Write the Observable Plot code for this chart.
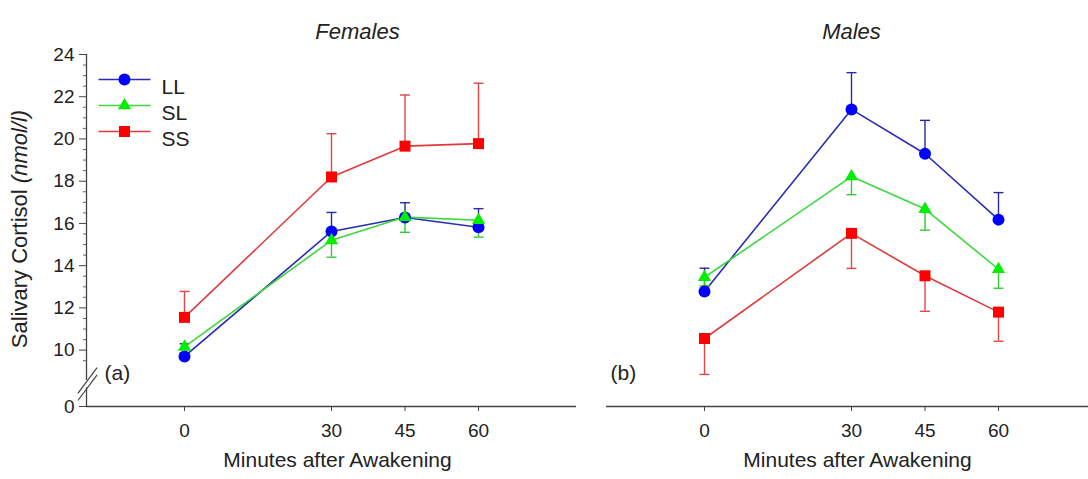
<!DOCTYPE html>
<html><head><meta charset="utf-8">
<script src="https://cdn.jsdelivr.net/npm/d3@7"></script>
<script src="https://cdn.jsdelivr.net/npm/@observablehq/plot@0.6"></script>
<style>
body{margin:0;background:#fff;}
#chart{position:relative;width:1088px;height:479px;overflow:hidden;background:#fff;}
#chart svg{position:absolute;top:0;}
</style></head><body><div id="chart"></div>
<script>
// ---- data ----
const minutes = [0, 30, 45, 60];
const groups = ["LL", "SL", "SS"];
const panelNames = ["Females", "Males"];
const panelTags = ["(a)", "(b)"];

const femalesLL = [9.7, 15.62, 16.28, 15.82];
const femalesLLerr = [0.6, 0.9, 0.7, 0.88];
const femalesSL = [10.15, 15.2, 16.3, 16.15];
const femalesSLerr = [0.3, 0.8, 0.72, 0.8];
const femalesSS = [11.55, 18.2, 19.66, 19.78];
const femalesSSerr = [1.23, 2.05, 2.42, 2.86];

const malesLL = [12.78, 21.4, 19.3, 16.18];
const malesLLerr = [1.1, 1.74, 1.58, 1.28];
const malesSL = [13.45, 18.22, 16.68, 13.83];
const malesSLerr = [0.4, 0.86, 1.0, 0.9];
const malesSS = [10.55, 15.53, 13.52, 11.8];
const malesSSerr = [1.7, 1.66, 1.68, 1.38];

// error bar direction per group (+1 up, -1 down)
const femalesErrDir = [1, -1, 1];
const malesErrDir = [1, -1, -1];

const yMajorTicks = [10, 12, 14, 16, 18, 20, 22, 24];
const yZeroTickLabel = "0";
const xTickValues = [0, 30, 45, 60];

// ---- styling ----
const markerColors = ["#0000ff", "#00ee00", "#ff0000"];
const lineColors = ["#2b2bb5", "#3cd83c", "#dd3b3b"];
const errColors = ["#2a2aa0", "#33cc33", "#e04848"];
const symbols = ["circle", "triangle", "square"];
const symbolR = [6, 4.9, 6.2];
const font = "'Liberation Sans', Arial, Helvetica, sans-serif";

// broken axis: the bottom of the frame stands for 0
const yBreakBase = 7.33;
const yGap = [8.22, 8.56];

// ---- build tables ----
const seriesValues = [[femalesLL, femalesSL, femalesSS], [malesLL, malesSL, malesSS]];
const seriesErrs = [[femalesLLerr, femalesSLerr, femalesSSerr], [malesLLerr, malesSLerr, malesSSerr]];
const errDirs = [femalesErrDir, malesErrDir];

function rowsFor(p, g) {
  return minutes.map((t, j) => {
    const v = seriesValues[p][g][j];
    return {t, v, end: v + errDirs[p][g] * seriesErrs[p][g][j]};
  });
}

const capSymbol = {draw(ctx, size) { const r = Math.sqrt(size / Math.PI); ctx.moveTo(-r, 0); ctx.lineTo(r, 0); }};
const slashSymbol = {draw(ctx, size) { const r = Math.sqrt(size / Math.PI); ctx.moveTo(-0.6 * r, 0.8 * r); ctx.lineTo(0.6 * r, -0.8 * r); }};

function panel(p) {
  const left = p === 0;
  const marks = [];
  // baseline (x axis line)
  marks.push(Plot.ruleY([yBreakBase], {stroke: "#444", strokeWidth: 1.3}));
  marks.push(Plot.axisX({ticks: xTickValues, tickSize: 5, tickPadding: 12, fontSize: 19, label: null, stroke: "#444"}));
  // x axis title
  marks.push(Plot.text(["Minutes after Awakening"], {frameAnchor: "bottom", dy: 60, dx: 6, fontSize: 21, fill: "#222"}));
  // panel title
  marks.push(Plot.text([panelNames[p]], {frameAnchor: "top", dy: -31, dx: left ? 26 : 0, fontSize: 22, fontStyle: "italic", fill: "#222"}));
  // panel tag
  marks.push(Plot.text([panelTags[p]], {frameAnchor: "bottom-left", dx: left ? 18 : 4, dy: -27, textAnchor: "start", fontSize: 21, fill: "#222"}));

  if (left) {
    marks.push(Plot.ruleX([-20], {y1: 24, y2: yGap[1], stroke: "#444", strokeWidth: 1.3}));
    marks.push(Plot.ruleX([-20], {y1: yGap[0], y2: yBreakBase, stroke: "#444", strokeWidth: 1.3}));
    marks.push(Plot.axisY({ticks: [yBreakBase, ...yMajorTicks], tickSize: 7, tickPadding: 5, fontSize: 19, label: null, stroke: "#444",
      tickFormat: d => d < 9 ? yZeroTickLabel : String(d)}));
    const minor = d3.range(9.5, 24, 0.5).filter(d => !yMajorTicks.includes(d));
    marks.push(Plot.axisY({ticks: minor, tickSize: 3, tickFormat: () => "", label: null, stroke: "#666"}));
    // axis break marks
    marks.push(Plot.dot(yGap, {x: () => -20, y: d => d, symbol: slashSymbol, r: 16, stroke: "#444", strokeWidth: 1.2, dx: 1}));
    // legend
    groups.forEach((g, i) => {
      const dy = 25 + i * 26;
      marks.push(Plot.dot([g], {frameAnchor: "top-left", dx: 38, dy, symbol: capSymbol, r: 26, stroke: lineColors[i], strokeWidth: 1.5}));
      marks.push(Plot.dot([g], {frameAnchor: "top-left", dx: 38, dy, symbol: symbols[i], r: symbolR[i], fill: markerColors[i]}));
      marks.push(Plot.text([g], {frameAnchor: "top-left", dx: 75, dy, textAnchor: "start", fontSize: 21, fill: "#222"}));
    });
  }

  // series
  groups.forEach((g, i) => {
    const rows = rowsFor(p, i);
    marks.push(Plot.line(rows, {x: "t", y: "v", stroke: lineColors[i], strokeWidth: 1.6}));
    marks.push(Plot.ruleX(rows, {x: "t", y1: "v", y2: "end", stroke: errColors[i], strokeWidth: 1.4}));
    marks.push(Plot.dot(rows, {x: "t", y: "end", symbol: capSymbol, r: 5, stroke: errColors[i], strokeWidth: 1.4}));
  });
  groups.forEach((g, i) => {
    const rows = rowsFor(p, i);
    marks.push(Plot.dot(rows, {x: "t", y: "v", symbol: symbols[i], r: symbolR[i], fill: markerColors[i]}));
  });

  return Plot.plot({
    width: left ? 590 : 506,
    height: 479,
    marginLeft: left ? 86 : 16,
    marginRight: left ? 14 : 0,
    marginTop: 54,
    marginBottom: 73,
    x: {domain: [-20, 80], axis: null},
    y: {domain: [yBreakBase, 24], axis: null},
    style: {fontFamily: font, fontSize: "19px", color: "#222", background: "transparent", overflow: "visible"},
    marks
  });
}

const chart = document.getElementById("chart");
const svgA = panel(0);
svgA.style.left = "0px";
chart.appendChild(svgA);
const svgB = panel(1);
svgB.style.left = "590px";
chart.appendChild(svgB);

// rotated y-axis title with italic unit
const t = d3.select(svgA).append("text")
  .attr("transform", "translate(27,229) rotate(-90)")
  .attr("text-anchor", "middle")
  .attr("font-size", 22)
  .attr("fill", "#222")
  .attr("font-family", font);
t.append("tspan").text("Salivary Cortisol ");
t.append("tspan").attr("font-style", "italic").text("(nmol/l)");
</script></body></html>
